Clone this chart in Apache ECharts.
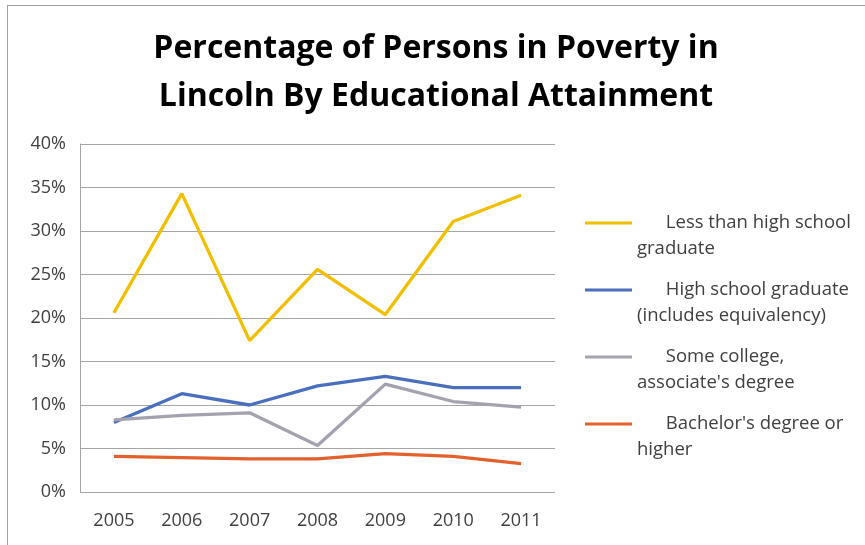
<!DOCTYPE html>
<html>
<head>
<meta charset="utf-8">
<script src="https://cdn.jsdelivr.net/npm/echarts@6/dist/echarts.min.js"></script>
<style>html,body{margin:0;padding:0;background:#fff}#c{width:865px;height:545px}</style>
</head>
<body>
<div id="c"></div>
<script>
var years = ['2005','2006','2007','2008','2009','2010','2011'];
var lessThanHS = [20.6, 34.3, 17.4, 25.6, 20.4, 31.1, 34.1];
var hsGrad = [8.0, 11.3, 10.0, 12.2, 13.3, 12.0, 12.0];
var someCollege = [8.3, 8.8, 9.1, 5.35, 12.4, 10.4, 9.75];
var bachelor = [4.1, 3.95, 3.8, 3.8, 4.4, 4.1, 3.25];
var seriesNames = ['Less than high school graduate', 'High school graduate (includes equivalency)', "Some college, associate's degree", "Bachelor's degree or higher"];
var legendLines = {};
legendLines[seriesNames[0]] = ['Less than high school', 'graduate'];
legendLines[seriesNames[1]] = ['High school graduate', '(includes equivalency)'];
legendLines[seriesNames[2]] = ['Some college,', "associate's degree"];
legendLines[seriesNames[3]] = ["Bachelor's degree or", 'higher'];
var colors = ['#F2BE00', '#4A6FBE', '#A3A3B0', '#E2612D'];
var yTicks = [0, 5, 10, 15, 20, 25, 30, 35, 40];

var font = '"Open Sans", "Noto Sans", sans-serif';
var chart = echarts.init(document.getElementById('c'));
function mk(name, data, color) {
  return {name: name, type: 'line', data: data, symbol: 'none', lineStyle: {width: 3.3, color: color}, itemStyle: {color: color}};
}
chart.setOption({
  animation: false,
  title: {
    text: 'Percentage of Persons in Poverty in\nLincoln By Educational Attainment',
    left: 436, top: 25, textAlign: 'center', padding: 0,
    textStyle: {fontFamily: font, fontWeight: 'bold', fontSize: 32, lineHeight: 48, color: '#000'}
  },
  grid: {left: 80, right: 310, top: 144, bottom: 53},
  legend: {
    orient: 'vertical', left: 585, top: 210, itemGap: 15, padding: 0,
    itemWidth: 47, itemHeight: 29,
    icon: 'path://M0,0H47V3H0Z M0,28.95H0.05V29H0Z',
    textStyle: {fontFamily: font, fontSize: 18.5, color: '#404040', lineHeight: 26},
    formatter: function (n) { var l = legendLines[n]; return '      ' + l[0] + '\n' + l[1]; },
    data: seriesNames
  },
  xAxis: {
    type: 'category', data: years, boundaryGap: true,
    axisLine: {show: false}, axisTick: {show: false},
    axisLabel: {fontFamily: font, fontSize: 18, color: '#404040', margin: 20}
  },
  yAxis: {
    type: 'value', min: 0, max: 40, interval: 5,
    axisLine: {show: true, lineStyle: {color: '#A6A6A6', width: 1}},
    axisTick: {show: false},
    splitLine: {lineStyle: {color: '#A6A6A6', width: 1}},
    axisLabel: {fontFamily: font, fontSize: 18, color: '#404040', margin: 14, formatter: function (v) { return v + '%'; }}
  },
  graphic: [
    {type: 'line', shape: {x1: 7.5, y1: 5, x2: 7.5, y2: 545}, style: {stroke: '#A0A0A0', lineWidth: 1}},
    {type: 'line', shape: {x1: 7, y1: 5.5, x2: 865, y2: 5.5}, style: {stroke: '#A0A0A0', lineWidth: 1}}
  ],
  series: [
    mk(seriesNames[0], lessThanHS, colors[0]),
    mk(seriesNames[1], hsGrad, colors[1]),
    mk(seriesNames[2], someCollege, colors[2]),
    mk(seriesNames[3], bachelor, colors[3])
  ]
});
</script>
</body>
</html>
